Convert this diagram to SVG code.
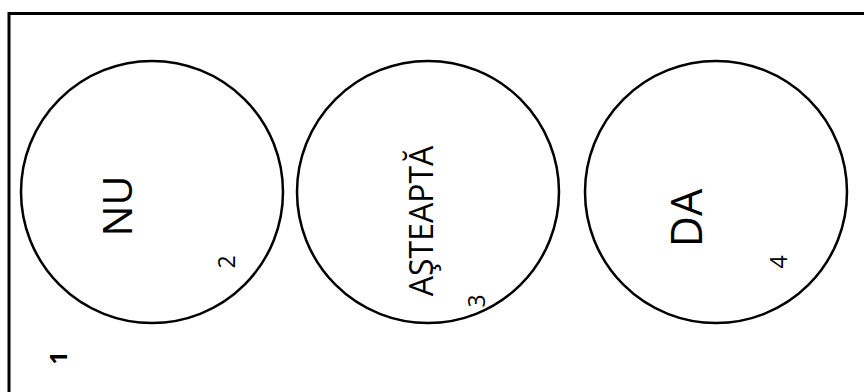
<svg xmlns="http://www.w3.org/2000/svg" width="864" height="392" viewBox="0 0 864 392">
<style>
.frame{fill:none;stroke:#000;stroke-width:3}
.c{fill:#fff;stroke:#000;stroke-width:2.5}
.lbl{font-family:"Open Sans","Noto Sans",sans-serif;fill:#000;text-anchor:middle}
.num{font-family:"Open Sans","Noto Sans",sans-serif;fill:#000;text-anchor:middle;font-size:23px}
</style>
<rect width="864" height="392" fill="#fff"/>
<g id="frame">
<rect class="frame" x="9" y="13.5" width="900" height="420"/>
<text class="num" transform="translate(67,358) rotate(-90)" font-weight="bold">1</text>
</g>
<g id="connectors"></g>
<g id="node-nu">
<circle class="c" cx="152" cy="192" r="131"/>
<text class="lbl" font-size="41" transform="translate(132,206) rotate(-90)">NU</text>
<text class="num" transform="translate(235,262) rotate(-90)">2</text>
</g>
<g id="node-asteapta">
<circle class="c" cx="428" cy="192" r="131"/>
<text class="lbl" font-size="32" transform="translate(433,221) rotate(-90)">AŞTEAPTĂ</text>
<text class="num" transform="translate(485,301) rotate(-90)">3</text>
</g>
<g id="node-da">
<circle class="c" cx="716" cy="192" r="131"/>
<text class="lbl" font-size="43" transform="translate(702,218) rotate(-90)">DA</text>
<text class="num" transform="translate(787,262) rotate(-90)">4</text>
</g>
</svg>
